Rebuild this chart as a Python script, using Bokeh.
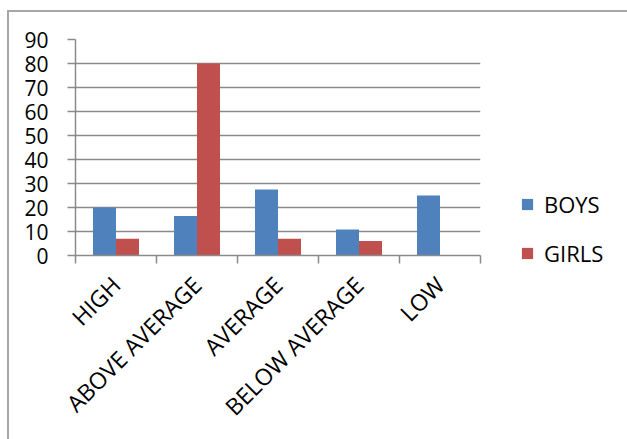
from bokeh.plotting import figure
from bokeh.models import Range1d, FixedTicker, Legend, LegendItem, ColumnDataSource
from bokeh.embed import file_html
from bokeh.resources import INLINE
import math

categories = ["HIGH", "ABOVE AVERAGE", "AVERAGE", "BELOW AVERAGE", "LOW"]
boys = [20, 16.5, 27.5, 10.8, 25]
girls = [7, 80, 7, 6, 0]
y_ticks = [0, 10, 20, 30, 40, 50, 60, 70, 80, 90]

BLUE = "#4F81BD"
RED = "#C0504D"
GRID = "#8a8a8a"
FONT = "Open Sans"

bar_w = 0.284
centers = [i + 0.5 for i in range(len(categories))]

p = figure(
    frame_width=405, frame_height=216,
    x_range=Range1d(0, len(categories)), y_range=Range1d(0, 90),
    output_backend="svg", toolbar_location=None,
    min_border_left=66, min_border_top=27, min_border_right=0, min_border_bottom=184,
    styles={"margin-left": "7px", "margin-top": "10px",
            "border-left": "2px solid #a6a6a6", "border-top": "2px solid #a6a6a6"},
)
p.outline_line_color = None

src = ColumnDataSource(dict(
    xb=[c - bar_w / 2 for c in centers], xg=[c + bar_w / 2 for c in centers],
    boys=boys, girls=girls,
))
rb = p.vbar(x="xb", top="boys", width=bar_w, source=src, fill_color=BLUE, line_color=None)
rg = p.vbar(x="xg", top="girls", width=bar_w, source=src, fill_color=RED, line_color=None)

# y axis
p.yaxis.ticker = FixedTicker(ticks=y_ticks)
p.yaxis.axis_line_color = GRID
p.yaxis.axis_line_width = 1.5
p.yaxis.major_tick_line_color = GRID
p.yaxis.major_tick_line_width = 1.5
p.yaxis.major_tick_out = 8
p.yaxis.major_tick_in = 0
p.yaxis.minor_tick_line_color = None
p.yaxis.major_label_text_font = FONT
p.yaxis.major_label_text_font_size = "21px"
p.yaxis.major_label_text_color = "black"
p.yaxis.major_label_standoff = 19

# x axis: labels at category centres, tick marks at category boundaries
p.xaxis.ticker = FixedTicker(ticks=centers, minor_ticks=list(range(len(categories) + 1)))
p.xaxis.major_label_overrides = {c: name for c, name in zip(centers, categories)}
p.xaxis.major_tick_line_color = None
p.xaxis.minor_tick_line_color = GRID
p.xaxis.minor_tick_line_width = 1.5
p.xaxis.minor_tick_out = 8
p.xaxis.minor_tick_in = 0
p.xaxis.axis_line_color = GRID
p.xaxis.axis_line_width = 1.5
p.xaxis.major_label_orientation = math.pi / 4
p.xaxis.major_label_text_font = FONT
p.xaxis.major_label_text_font_size = "23px"
p.xaxis.major_label_text_color = "black"
p.xaxis.major_label_standoff = 17

p.xgrid.grid_line_color = None
p.ygrid.ticker = FixedTicker(ticks=y_ticks)
p.ygrid.grid_line_color = GRID
p.ygrid.grid_line_width = 1.5

legend = Legend(
    items=[LegendItem(label="BOYS", renderers=[rb]), LegendItem(label="GIRLS", renderers=[rg])],
    location=(40, -13),
    glyph_width=14, glyph_height=14, label_height=14,
    spacing=19, padding=0, margin=0, label_standoff=10,
    label_text_font=FONT, label_text_font_size="22px", label_text_color="black",
    border_line_color=None, background_fill_alpha=0,
)
p.add_layout(legend, "right")

open("out.html", "w").write(file_html(p, INLINE))
